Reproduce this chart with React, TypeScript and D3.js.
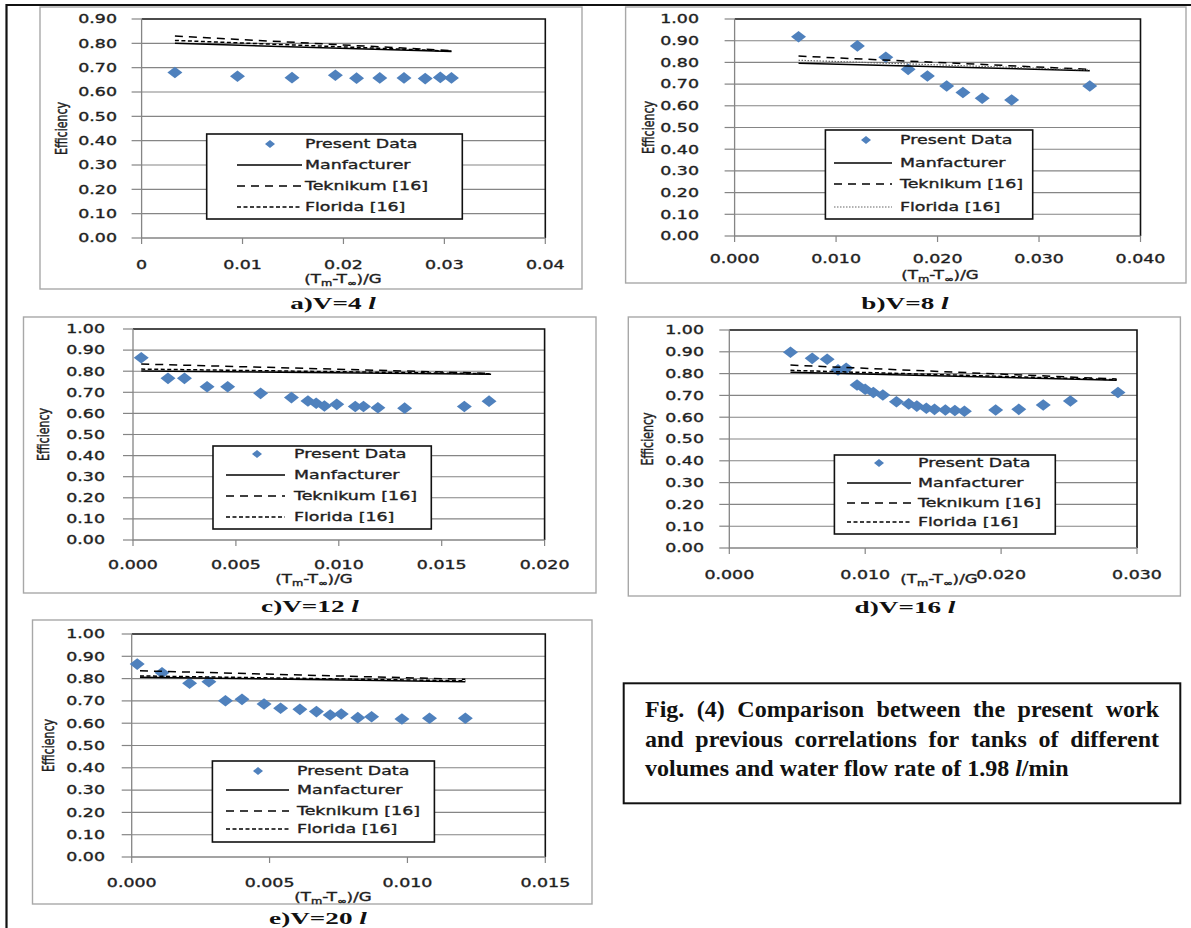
import { useRef, useEffect } from "react";
import * as d3 from "d3";

// ---- data ----
const seriesNames = ["Present Data", "Manfacturer", "Teknikum [16]", "Florida [16]"];

// a) V=4 l
const xA = [0.0033, 0.0095, 0.0149, 0.0192, 0.0213, 0.0236, 0.026, 0.0281, 0.0296, 0.0307];
const effA = [0.68, 0.665, 0.659, 0.669, 0.657, 0.658, 0.658, 0.655, 0.66, 0.658];
const corrXA = [0.0033, 0.0307];
const manfA = [0.8, 0.766];
const teknA = [0.83, 0.77];
const florA = [0.812, 0.768];

// b) V=8 l
const xB = [0.0063, 0.0121, 0.0149, 0.0171, 0.019, 0.0209, 0.0225, 0.0244, 0.0273, 0.035];
const effB = [0.918, 0.876, 0.824, 0.768, 0.737, 0.691, 0.661, 0.635, 0.627, 0.691];
const corrXB = [0.0063, 0.035];
const manfB = [0.796, 0.762];
const teknB = [0.829, 0.768];
const florB = [0.81, 0.765];

// c) V=12 l
const xC = [0.0004, 0.0017, 0.0025, 0.0036, 0.0046, 0.0062, 0.0077, 0.0085, 0.0089, 0.0093, 0.0099, 0.0108, 0.0112, 0.0119, 0.0132, 0.0161, 0.0173];
const effC = [0.864, 0.766, 0.766, 0.726, 0.726, 0.695, 0.675, 0.659, 0.648, 0.635, 0.643, 0.633, 0.633, 0.627, 0.625, 0.633, 0.658];
const corrXC = [0.0004, 0.0174];
const manfC = [0.801, 0.786];
const teknC = [0.834, 0.79];
const florC = [0.81, 0.788];

// d) V=16 l
const xD = [0.0045, 0.0061, 0.0072, 0.008, 0.0086, 0.0094, 0.01, 0.0106, 0.0113, 0.0123, 0.0132, 0.0138, 0.0145, 0.0151, 0.0159, 0.0166, 0.0173, 0.0196, 0.0213, 0.0231, 0.0251, 0.0286];
const effD = [0.898, 0.87, 0.866, 0.817, 0.824, 0.748, 0.728, 0.713, 0.702, 0.671, 0.661, 0.651, 0.641, 0.636, 0.633, 0.631, 0.627, 0.633, 0.636, 0.656, 0.674, 0.713];
const corrXD = [0.0045, 0.0285];
const manfD = [0.806, 0.77];
const teknD = [0.839, 0.775];
const florD = [0.815, 0.772];

// e) V=20 l
const xE = [0.0002, 0.0011, 0.0021, 0.0028, 0.0034, 0.004, 0.0048, 0.0054, 0.0061, 0.0067, 0.0072, 0.0076, 0.0082, 0.0087, 0.0098, 0.0108, 0.0121];
const effE = [0.865, 0.826, 0.779, 0.786, 0.701, 0.707, 0.686, 0.667, 0.662, 0.652, 0.637, 0.641, 0.625, 0.629, 0.619, 0.622, 0.622];
const corrXE = [0.0003, 0.0121];
const manfE = [0.806, 0.786];
const teknE = [0.835, 0.797];
const florE = [0.812, 0.79];

// ticks
const xTicksA = [0, 0.01, 0.02, 0.03, 0.04];
const xTickLabelsA = ["0", "0.01", "0.02", "0.03", "0.04"];
const xTicksB = [0, 0.01, 0.02, 0.03, 0.04];
const xTickLabelsB = ["0.000", "0.010", "0.020", "0.030", "0.040"];
const xTicksC = [0, 0.005, 0.01, 0.015, 0.02];
const xTickLabelsC = ["0.000", "0.005", "0.010", "0.015", "0.020"];
const xTicksD = [0, 0.01, 0.02, 0.03];
const xTickLabelsD = ["0.000", "0.010", "0.020", "0.030"];
const xTicksE = [0, 0.005, 0.01, 0.015];
const xTickLabelsE = ["0.000", "0.005", "0.010", "0.015"];
const yTicks09 = [0, 0.1, 0.2, 0.3, 0.4, 0.5, 0.6, 0.7, 0.8, 0.9];
const yTicks10 = [0, 0.1, 0.2, 0.3, 0.4, 0.5, 0.6, 0.7, 0.8, 0.9, 1.0];

const captionWords1 = "Fig. (4) Comparison between the present work";
const captionWords2 = "and previous correlations for tanks of different";
const captionWords3 = "volumes and water flow rate of 1.98 ";

// ---- styling ----
const SX = 1.45; // the panels in the figure are stretched sideways
const FONT = "'DejaVu Sans', Verdana, sans-serif";
const SERIF = "'Liberation Serif', 'Times New Roman', serif";
const BLUE = "#4f81bd";
const GRID = "#858585";
const INK = "#1e1e1e";

const panels = [
  {
    id: "a", cap: "a)V=4 ", x: xA, eff: effA, cx: corrXA, manf: manfA, tekn: teknA, flor: florA,
    xTicks: xTicksA, xLabels: xTickLabelsA, yTicks: yTicks09,
    frame: [40, 7, 582, 289], plot: [141.6, 19, 545.3, 238], yLabR: 117, yTitleX: 61,
    xLabY: 265, xTitle: [343, 279], capPos: [333, 309],
    legend: { box: [206.7, 134, 462.3, 219], rows: [144, 165, 186, 207], sym: [237, 302], text: 305, mark: 270 },
    dotted: false,
  },
  {
    id: "b", cap: "b)V=8 ", x: xB, eff: effB, cx: corrXB, manf: manfB, tekn: teknB, flor: florB,
    xTicks: xTicksB, xLabels: xTickLabelsB, yTicks: yTicks10,
    frame: [625.6, 7, 1186, 283], plot: [734.6, 19, 1140.5, 236], yLabR: 699, yTitleX: 648,
    xLabY: 259, xTitle: [940, 274.5], capPos: [905, 309],
    legend: { box: [825.4, 130, 1032.7, 219], rows: [140, 163, 184, 207], sym: [834, 892], text: 900, mark: 866 },
    dotted: true,
  },
  {
    id: "c", cap: "c)V=12 ", x: xC, eff: effC, cx: corrXC, manf: manfC, tekn: teknC, flor: florC,
    xTicks: xTicksC, xLabels: xTickLabelsC, yTicks: yTicks10,
    frame: [23.5, 317, 596, 593], plot: [133, 329, 544.6, 540], yLabR: 105, yTitleX: 43,
    xLabY: 565, xTitle: [314, 579], capPos: [310, 612],
    legend: { box: [213, 446, 431.3, 529], rows: [454, 475, 496, 517], sym: [226, 285], text: 294, mark: 257 },
    dotted: false,
  },
  {
    id: "d", cap: "d)V=16 ", x: xD, eff: effD, cx: corrXD, manf: manfD, tekn: teknD, flor: florD,
    xTicks: xTicksD, xLabels: xTickLabelsD, yTicks: yTicks10,
    frame: [628.3, 317, 1180.4, 596], plot: [729.3, 330, 1137, 548], yLabR: 704, yTitleX: 647,
    xLabY: 575, xTitle: [939, 579], capPos: [905, 613],
    legend: { box: [834.4, 455, 1055.3, 534], rows: [463, 483, 503, 522], sym: [847, 911], text: 918, mark: 879 },
    dotted: false,
  },
  {
    id: "e", cap: "e)V=20 ", x: xE, eff: effE, cx: corrXE, manf: manfE, tekn: teknE, flor: florE,
    xTicks: xTicksE, xLabels: xTickLabelsE, yTicks: yTicks10,
    frame: [32.5, 620, 592, 904], plot: [131.7, 634, 545.3, 857], yLabR: 105, yTitleX: 48,
    xLabY: 883, xTitle: [333, 897], capPos: [318, 924],
    legend: { box: [212.4, 761, 434.4, 842], rows: [771, 790, 811, 829], sym: [226, 289], text: 297, mark: 258 },
    dotted: false,
  },
];

const stext = (g, px, py, str, size = 12) =>
  g
    .append("text")
    .attr("transform", `translate(${px},${py}) scale(${SX},1)`)
    .attr("font-family", FONT)
    .attr("font-size", size)
    .attr("fill", INK)
    .attr("stroke", INK)
    .attr("stroke-width", 0.35)
    .text(str);

const Panel = ({ p }) => {
  const container = useRef(null);
  useEffect(() => {
    draw();
  });

  const draw = () => {
    const g = d3.select(container.current);
    g.selectAll("*").remove();
    const [L, T, R, B] = p.plot;
    const xScale = d3
      .scaleLinear()
      .domain([p.xTicks[0], p.xTicks[p.xTicks.length - 1]])
      .range([L, R]);
    const yScale = d3
      .scaleLinear()
      .domain([0, p.yTicks[p.yTicks.length - 1]])
      .range([B, T]);

    // chart area border
    const [fx0, fy0, fx1, fy1] = p.frame;
    g.append("rect")
      .attr("x", fx0).attr("y", fy0)
      .attr("width", fx1 - fx0).attr("height", fy1 - fy0)
      .attr("fill", "#fff").attr("stroke", "#a8a8a8").attr("stroke-width", 1.4);

    // gridlines
    g.selectAll(".grid")
      .data(p.yTicks.slice(1, -1))
      .join("line")
      .attr("x1", L).attr("x2", R)
      .attr("y1", (d) => yScale(d)).attr("y2", (d) => yScale(d))
      .attr("stroke", GRID).attr("stroke-width", 1.1);

    // plot area top/right in black
    g.append("path")
      .attr("d", `M${L},${T}H${R}V${B}`)
      .attr("fill", "none").attr("stroke", "#111").attr("stroke-width", 1.6);

    // axes
    g.append("path")
      .attr("d", `M${L},${T}V${B}H${R}`)
      .attr("fill", "none").attr("stroke", GRID).attr("stroke-width", 1.3);
    g.selectAll(".ytick")
      .data(p.yTicks)
      .join("line")
      .attr("x1", L - 10).attr("x2", L)
      .attr("y1", (d) => yScale(d)).attr("y2", (d) => yScale(d))
      .attr("stroke", GRID).attr("stroke-width", 1.2);
    g.selectAll(".xtick")
      .data(p.xTicks)
      .join("line")
      .attr("x1", (d) => xScale(d)).attr("x2", (d) => xScale(d))
      .attr("y1", B).attr("y2", B + 6)
      .attr("stroke", GRID).attr("stroke-width", 1.2);

    const fmt = d3.format(".2f");
    p.yTicks.forEach((t) => {
      stext(g, p.yLabR, yScale(t), fmt(t)).attr("text-anchor", "end").attr("dy", "0.36em");
    });
    p.xTicks.forEach((t, i) => {
      stext(g, xScale(t), p.xLabY, p.xLabels[i]).attr("text-anchor", "middle").attr("dy", "0.36em");
    });

    // axis titles
    const xt = stext(g, p.xTitle[0], p.xTitle[1], "", 11.5).attr("text-anchor", "middle").attr("dy", "0.36em");
    xt.append("tspan").text("(T");
    xt.append("tspan").attr("font-size", 8).attr("dy", 3).text("m");
    xt.append("tspan").attr("dy", -3).text("-T");
    xt.append("tspan").attr("font-size", 8).attr("font-weight", "bold").attr("dy", 3).text("∞");
    xt.append("tspan").attr("dy", -3).text(")/G");

    const midY = (T + B) / 2;
    g.append("text")
      .attr("transform", `translate(${p.yTitleX},${midY}) scale(${SX},1) rotate(-90)`)
      .attr("font-family", FONT).attr("font-size", 11).attr("fill", INK)
      .attr("stroke", INK).attr("stroke-width", 0.3)
      .attr("text-anchor", "middle").attr("dy", "0.36em")
      .text("Efficiency");

    // present data
    const diamond = "M0,-5.8L7.5,0L0,5.8L-7.5,0Z";
    g.selectAll(".pt")
      .data(p.x.map((v, i) => [v, p.eff[i]]))
      .join("path")
      .attr("d", diamond)
      .attr("transform", (d) => `translate(${xScale(d[0])},${yScale(d[1])})`)
      .attr("fill", BLUE);

    // correlations
    const styles = [
      { vals: p.manf, dash: null, color: "#000", w: 1.5 },
      { vals: p.tekn, dash: "8,6", color: "#000", w: 1.5 },
      p.dotted
        ? { vals: p.flor, dash: "1.5,1.5", color: "#666", w: 1.2 }
        : { vals: p.flor, dash: "4,2.5", color: "#000", w: 1.5 },
    ];
    const line = d3
      .line()
      .x((d) => xScale(d[0]))
      .y((d) => yScale(d[1]));
    styles.forEach((s) => {
      g.append("path")
        .datum(p.cx.map((v, i) => [v, s.vals[i]]))
        .attr("d", line)
        .attr("fill", "none")
        .attr("stroke", s.color)
        .attr("stroke-width", s.w)
        .attr("stroke-dasharray", s.dash);
    });

    // legend
    const lg = p.legend;
    g.append("rect")
      .attr("x", lg.box[0]).attr("y", lg.box[1])
      .attr("width", lg.box[2] - lg.box[0]).attr("height", lg.box[3] - lg.box[1])
      .attr("fill", "#fff").attr("stroke", "#111").attr("stroke-width", 1.6);
    g.append("path")
      .attr("d", "M0,-4L5,0L0,4L-5,0Z")
      .attr("transform", `translate(${lg.mark},${lg.rows[0]})`)
      .attr("fill", BLUE);
    styles.forEach((s, i) => {
      g.append("line")
        .attr("x1", lg.sym[0]).attr("x2", lg.sym[1])
        .attr("y1", lg.rows[i + 1]).attr("y2", lg.rows[i + 1])
        .attr("stroke", s.color).attr("stroke-width", s.w)
        .attr("stroke-dasharray", s.dash);
    });
    seriesNames.forEach((n, i) => {
      stext(g, lg.text, lg.rows[i], n).attr("dy", "0.36em");
    });

    // panel caption
    const cap = g
      .append("text")
      .attr("transform", `translate(${p.capPos[0]},${p.capPos[1]}) scale(1.6,1)`)
      .attr("font-family", SERIF).attr("font-size", 17).attr("font-weight", "bold")
      .attr("fill", "#111").attr("text-anchor", "middle");
    cap.append("tspan").text(p.cap);
    cap.append("tspan").attr("font-style", "italic").text("l");
  };

  return <g ref={container}></g>;
};

const App = () => {
  const capRef = useRef(null);
  useEffect(() => {
    const g = d3.select(capRef.current);
    g.selectAll("*").remove();
    const left = 645;
    const right = 1159;
    const base = [717, 746.5, 776];
    const style = (s) =>
      s.attr("font-family", SERIF).attr("font-size", 24).attr("font-weight", "bold").attr("fill", "#111");

    // justified lines
    [captionWords1, captionWords2].forEach((ln, li) => {
      const words = ln.split(" ");
      const nodes = words.map((w) => style(g.append("text")).attr("y", base[li]).text(w));
      const widths = nodes.map((n) => n.node().getComputedTextLength());
      const gap = (right - left - d3.sum(widths)) / (words.length - 1);
      let cur = left;
      nodes.forEach((n, i) => {
        n.attr("x", cur);
        cur += widths[i] + gap;
      });
    });
    const last = style(g.append("text")).attr("x", left).attr("y", base[2]);
    last.append("tspan").text(captionWords3);
    last.append("tspan").attr("font-style", "italic").text("l");
    last.append("tspan").text("/min");
  });

  return (
    <svg
      width={1191}
      height={928}
      style={{ position: "absolute", left: 0, top: 0, background: "#fff" }}
    >
      <rect x={0} y={0} width={1191} height={928} fill="#fff" />
      {panels.map((p) => (
        <Panel key={p.id} p={p} />
      ))}
      <path d="M6.5,928V5H1191" fill="none" stroke="#111" strokeWidth={2.2} />
      <rect x={623.7} y={683.3} width={556.6} height={120} fill="#fff" stroke="#111" strokeWidth={2} />
      <g ref={capRef}></g>
    </svg>
  );
};

export default App;
